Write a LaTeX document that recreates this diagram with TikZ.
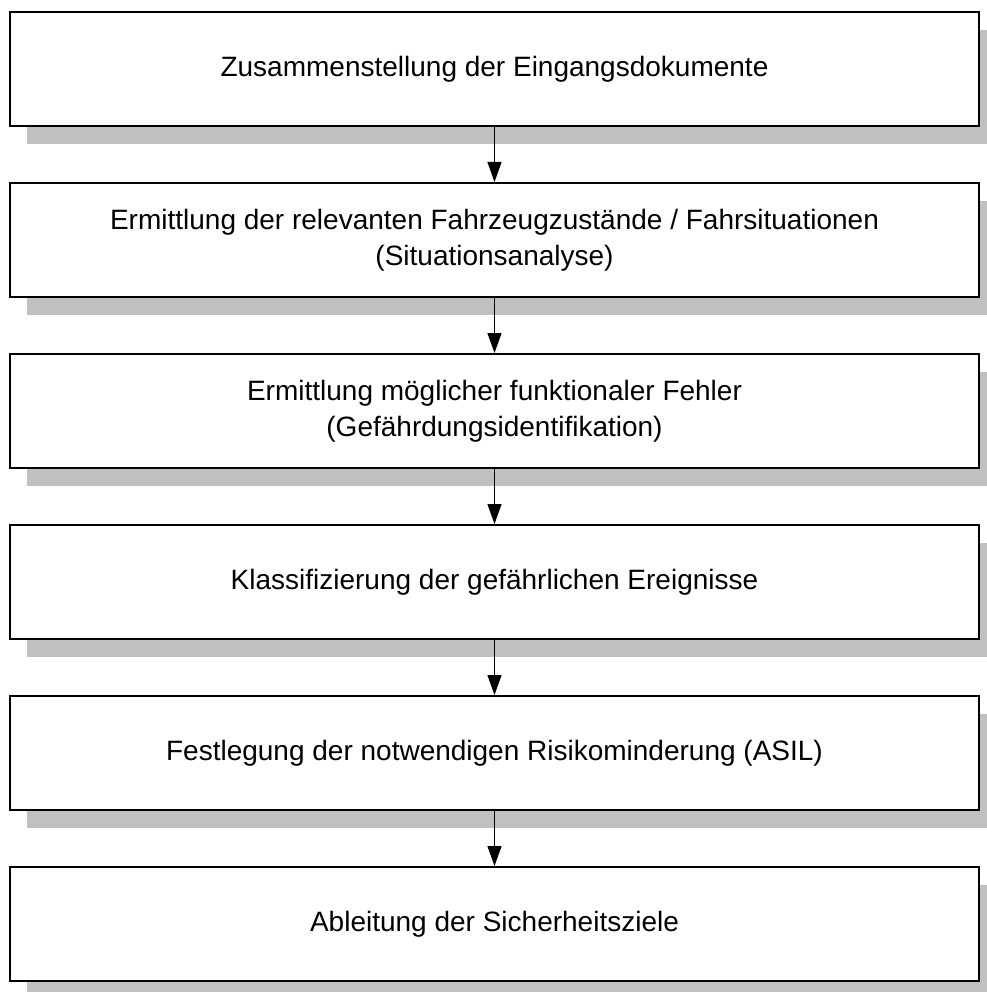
\documentclass[tikz,border=0pt]{standalone}
\usepackage{fontspec}
\setmainfont{Liberation Sans}
\usetikzlibrary{arrows.meta,shadows}
\definecolor{shadowgray}{RGB}{192,192,192}
\begin{document}
\begin{tikzpicture}[x=1pt,y=-1pt,
  stepbox/.style={draw=black, line width=2pt, fill=white,
    minimum width=969pt, minimum height=114pt, inner sep=0pt,
    align=center, font=\fontsize{28}{36}\selectfont,
    drop shadow={shadow xshift=17pt, shadow yshift=-18pt,
      fill=shadowgray, opacity=1}},
  flow/.style={draw=black, line width=1.2pt,
    -{Triangle[length=20pt,width=14pt]}}]
\useasboundingbox (0,0) rectangle (986,992);
\node[stepbox] (s1) at (494.5, 69) {Zusammenstellung der Eingangsdokumente};
\node[stepbox] (s2) at (494.5,240) {Ermittlung der relevanten Fahrzeugzustände / Fahrsituationen\\(Situationsanalyse)};
\node[stepbox] (s3) at (494.5,411) {Ermittlung möglicher funktionaler Fehler\\(Gefährdungsidentifikation)};
\node[stepbox] (s4) at (494.5,582) {Klassifizierung der gefährlichen Ereignisse};
\node[stepbox] (s5) at (494.5,753) {Festlegung der notwendigen Risikominderung (ASIL)};
\node[stepbox] (s6) at (494.5,924) {Ableitung der Sicherheitsziele};
\foreach \a/\b in {s1/s2,s2/s3,s3/s4,s4/s5,s5/s6}
  \draw[flow] (\a.south) -- (\b.north);
\end{tikzpicture}
\end{document}
